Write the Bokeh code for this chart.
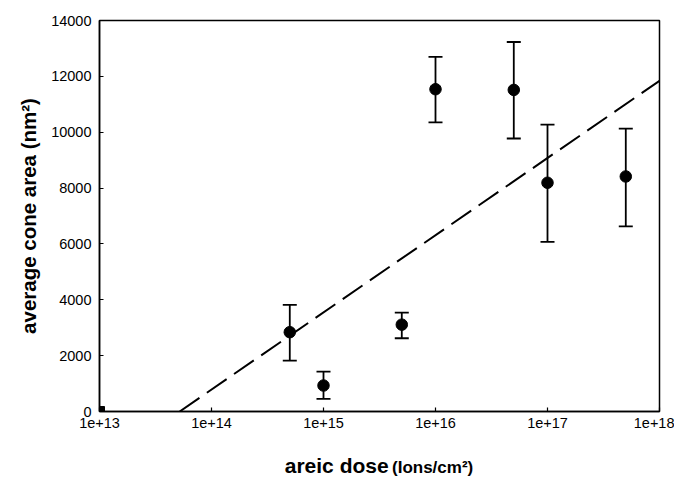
from bokeh.plotting import figure
from bokeh.layouts import column
from bokeh.models import (ColumnDataSource, Whisker, TeeHead, FixedTicker,
                          CustomJSTickFormatter, Range1d, Div)
from bokeh.embed import file_html
from bokeh.resources import INLINE

# data
dose = [5e14, 1e15, 5e15, 1e16, 5e16, 1e17, 5e17]
area = [2840, 930, 3110, 11540, 11515, 8190, 8415]
err_low = [1824, 454, 2622, 10350, 9775, 6070, 6627]
err_high = [3815, 1430, 3540, 12700, 13230, 10275, 10130]

ref_dose = [1e13]
ref_area = [0]

fit_dose = [5.2e13, 1e18]
fit_area = [0, 11840]

x_ticks = [1e13, 1e14, 1e15, 1e16, 1e17, 1e18]
x_tick_labels = ["1e+13", "1e+14", "1e+15", "1e+16", "1e+17", "1e+18"]
y_ticks = [0, 2000, 4000, 6000, 8000, 10000, 12000, 14000]

FONT = "Liberation Sans"

p = figure(width=674, height=452, x_axis_type="log",
           x_range=Range1d(1e13, 1e18), y_range=Range1d(0, 14000),
           output_backend="svg", toolbar_location=None,
           min_border_left=99, min_border_right=15,
           min_border_top=20, min_border_bottom=41)

p.xgrid.visible = False
p.ygrid.visible = False
p.outline_line_color = "black"
p.outline_line_width = 1.5
p.background_fill_color = "white"
p.border_fill_color = "white"

# dashed fit line
p.line(fit_dose, fit_area, line_color="black", line_width=2, line_dash="24 9")

# error bars
src = ColumnDataSource(dict(x=dose, y=area, lo=err_low, hi=err_high))
w = Whisker(source=src, base="x", lower="lo", upper="hi", dimension="height",
            line_color="black", line_width=1.8,
            upper_head=TeeHead(size=14, line_color="black", line_width=1.8),
            lower_head=TeeHead(size=14, line_color="black", line_width=1.8))
p.add_layout(w)

p.scatter("x", "y", source=src, size=11.5, marker="circle",
          fill_color="black", line_color="black")
p.scatter(ref_dose, ref_area, size=10, marker="square",
          fill_color="black", line_color="black")

# axes
for ax in (p.xaxis[0], p.yaxis[0]):
    ax.axis_line_width = 1.5
    ax.axis_line_color = "black"
    ax.major_tick_in = 4
    ax.major_tick_out = 0
    ax.major_tick_line_width = 1.2
    ax.minor_tick_in = 0
    ax.minor_tick_out = 0
    ax.major_label_text_font = FONT
    ax.major_label_text_color = "black"

p.xaxis.ticker = FixedTicker(ticks=x_ticks)
p.xaxis.formatter = CustomJSTickFormatter(
    args=dict(labels=x_tick_labels),
    code="return labels[Math.round(Math.log10(tick)) - 13];")
p.xaxis.major_label_text_font_size = "14.5px"
p.xaxis.major_label_standoff = 6

p.yaxis.ticker = FixedTicker(ticks=y_ticks)
p.yaxis.major_label_text_font_size = "14.5px"
p.yaxis.major_label_standoff = 8
p.yaxis.axis_label = "average cone area (nm²)"
p.yaxis.axis_label_text_font = FONT
p.yaxis.axis_label_text_font_style = "bold"
p.yaxis.axis_label_text_font_size = "20.5px"
p.yaxis.axis_label_text_color = "black"
p.yaxis.axis_label_standoff = 8

# x-axis title in two sizes, centred under the plot frame
xtitle = Div(
    text='<span style="font-size:21px">areic dose</span> '
         '<span style="font-size:17px">(Ions/cm²)</span>',
    width=560, height=25, margin=(2, 0, 0, 99),
    styles={"font-family": FONT, "font-weight": "bold", "color": "black",
            "text-align": "center", "line-height": "24px"})

layout = column(p, xtitle, spacing=0)

open("out.html", "w").write(file_html(layout, INLINE))
